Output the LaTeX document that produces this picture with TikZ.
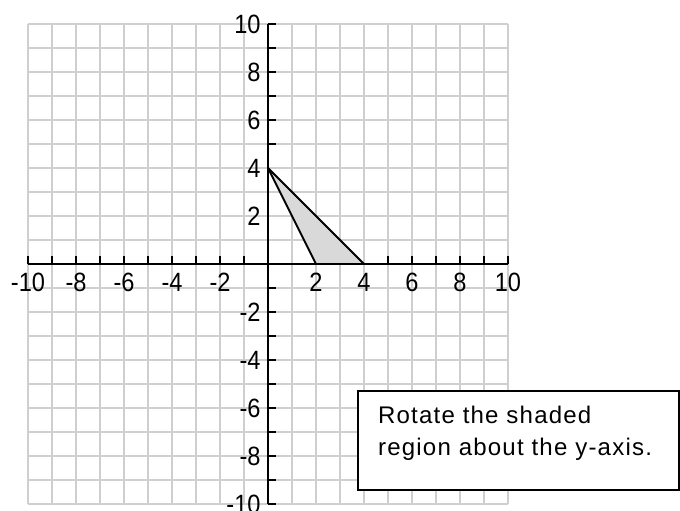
\documentclass[tikz,border=0pt]{standalone}
\usepackage{fontspec}
\setmainfont{Liberation Sans}
\newfontfamily\notefont[LetterSpace=5]{Liberation Sans}
\begin{document}
\begin{tikzpicture}[
	gridline/.style={draw=black!19, line width=2.2pt},
	axisline/.style={line width=2.4pt},
	ticklabel/.style={inner sep=0pt, yscale=1.12, font=\fontsize{28}{30}\selectfont},
	edge/.style={line width=2.2pt, line join=round},
	notetext/.style={inner sep=0pt, anchor=base west, font=\notefont\fontsize{28.5}{36}\selectfont}
	]
	\useasboundingbox (-11.167,-10.292) rectangle (17.167,11);
	
	% grid
	\draw[gridline] (-10,-10) grid (10,10);
	
	% region
	\coordinate (A) at (0,4);
	\coordinate (B) at (2,0);
	\coordinate (C) at (4,0);
	\fill[black!15] (A) -- (B) -- (C) -- cycle;
	
	% axes
	\draw[axisline] (-10,0) -- (10,0);
	\draw[axisline] (0,-10) -- (0,10);
	
	% ticks
	\foreach \t in {-10,...,-1,5,6,...,10}{
		\draw[axisline] (\t,0) -- (\t,0.35);
		\draw[axisline] (0,\t) -- (0.35,\t);
	}
	
	% edges of the region
	\draw[edge] (A) -- (B);
	\draw[edge] (A) -- (C);
	
	% labels
	\foreach \t in {-10,-8,-6,-4,-2,2,4,6,8,10}{
		\node[ticklabel, anchor=north] (xl\t) at (\t,-0.37) {\t};
		\node[ticklabel, anchor=east] (yl\t) at (-0.3,\t) {\t};
	}
	
	% note
	\node[draw, fill=white, line width=2.2pt, inner sep=0pt, anchor=north west,
		minimum width=13.37cm, minimum height=4.125cm] (note) at (3.71,-5.25) {};
	\node[notetext] (noteA) at (4.58,-6.667) {Rotate the shaded};
	\node[notetext] (noteB) at (4.58,-7.96) {region about the y-axis.};
\end{tikzpicture}
\end{document}
